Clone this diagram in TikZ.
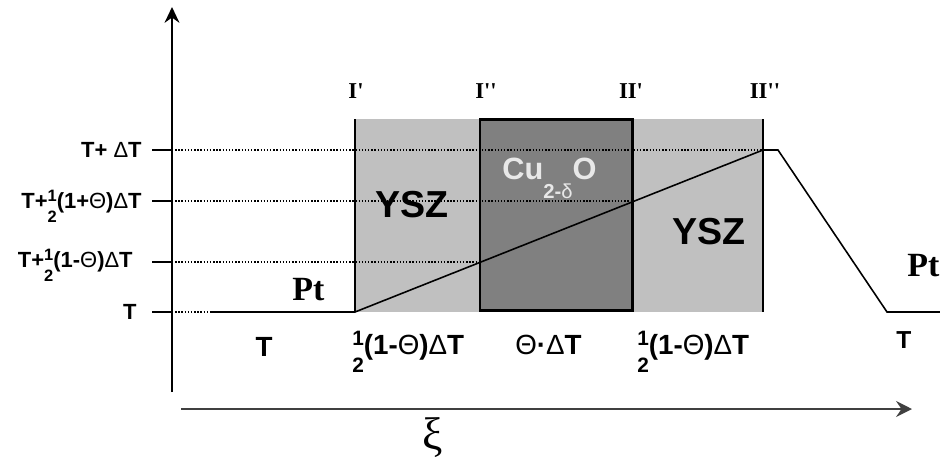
\documentclass[tikz,border=0pt]{standalone}
\usepackage{fontspec}
\usepackage{graphicx}
\setmainfont{Liberation Serif}
\setsansfont{Liberation Sans}
\usetikzlibrary{arrows.meta}
\definecolor{yszgray}{HTML}{C0C0C0}
\definecolor{cugray}{HTML}{808080}
\definecolor{axgray}{HTML}{404040}
\newcommand{\hlf}{\raisebox{-0.65em}{\scalebox{0.75}{\vbox{\offinterlineskip\hbox{1}\kern0.57em\hbox{2}}}}}
\newcommand{\Tht}{{\mdseries Θ}}
\newcommand{\Dlt}{{\mdseries Δ}}
\newcommand{\q}{\textquotesingle}
\begin{document}
\begin{tikzpicture}[x=0.02cm,y=-0.02cm,
    lvl/.style={font=\sffamily\bfseries\fontsize{12.5}{14}\selectfont,anchor=base east,inner sep=0pt},
    gap/.style={font=\sffamily\bfseries\fontsize{15.8}{18}\selectfont,anchor=base west,inner sep=0pt},
    iface/.style={font=\rmfamily\bfseries\fontsize{12.9}{15}\selectfont,anchor=base,inner sep=0pt},
    metal/.style={font=\rmfamily\bfseries\fontsize{19.3}{22}\selectfont,anchor=base west,inner sep=0pt},
    layer/.style={font=\sffamily\bfseries\fontsize{21.4}{24}\selectfont,anchor=base west,inner sep=0pt},
    guide/.style={dash pattern=on 0.8pt off 1pt,line width=0.8pt}]
    \useasboundingbox (0,0) rectangle (940,464);
    % layers
    \fill[yszgray](355,119) rectangle (763,312);
    \fill[cugray](480,119) rectangle (632,310);
    % axes
    \draw[line width=1.1pt,-{Stealth[length=9pt,width=8.5pt,inset=3pt]}](172,392)--(172,7);
    \draw[axgray,line width=1.4pt,-{Stealth[length=9pt,width=9pt,inset=3pt]}](181,409)--(912,409);
    \node[font=\rmfamily\fontsize{26}{28}\selectfont](xi) at (433,438){ξ};
    % levels
    \draw[line width=1.1pt](152,150)--(172,150);
    \draw[line width=1.1pt](152,201)--(172,201);
    \draw[line width=1.1pt](152,262)--(172,262);
    \draw[line width=1.1pt](152,312)--(172,312);
    \node[lvl](tdt) at (142,157){T+ \Dlt T};
    \node[lvl](tp) at (142,208){T+\hlf(1+\Tht)\Dlt T};
    \node[lvl](tm) at (133,267){T+\hlf(1-\Tht)\Dlt T};
    \node[lvl](t0) at (137,319){T};
    \draw[guide](172,150)--(763,150);
    \draw[guide](172,201)--(632,201);
    \draw[guide](172,262)--(480,262);
    \draw[guide](172,312)--(210,312);
    % interfaces
    \draw[line width=1.1pt](355,119)--(355,312);
    \draw[line width=1.1pt](763,119)--(763,312);
    \draw[line width=1.7pt](480,119) rectangle (632,310);
    \node[iface](ia) at (356,98){I\q};
    \node[iface](ib) at (486,98){I\q\q};
    \node[iface](iia) at (631,98){II\q};
    \node[iface](iib) at (765,98){II\q\q};
    % temperature profile
    \coordinate (ptl) at (210,312);
    \coordinate (ysza) at (355,312);
    \coordinate (top) at (763,150);
    \coordinate (topr) at (778,150);
    \coordinate (ptr) at (887,312);
    \coordinate (endr) at (940,312);
    \draw[line width=0.9pt](ptl)--(ysza)--(top)--(topr)--(ptr)--(endr);
    % labels
    \node[layer](ysz1) at (375,217){YSZ};
    \node[layer](ysz2) at (672,244){YSZ};
    \node[font=\sffamily\bfseries\fontsize{17.5}{20}\selectfont,text=black!9,anchor=base west,inner sep=0pt](cu) at (502,179){Cu\raisebox{-11pt}{\fontsize{11.5}{12}\selectfont 2-{\mdseries δ}}O};
    \node[metal](pt1) at (292,300){Pt};
    \node[metal](pt2) at (907,276){Pt};
    \node[gap,anchor=base](dt1) at (264,356){T};
    \node[gap](dt2) at (352,354){\hlf(1-\Tht)\Dlt T};
    \node[gap](dt3) at (515,354){\Tht·\Dlt T};
    \node[gap](dt4) at (637,354){\hlf(1-\Tht)\Dlt T};
    \node[font=\sffamily\bfseries\fontsize{14}{16}\selectfont,anchor=base,inner sep=0pt](dt5) at (904,348){T};
\end{tikzpicture}
\end{document}
